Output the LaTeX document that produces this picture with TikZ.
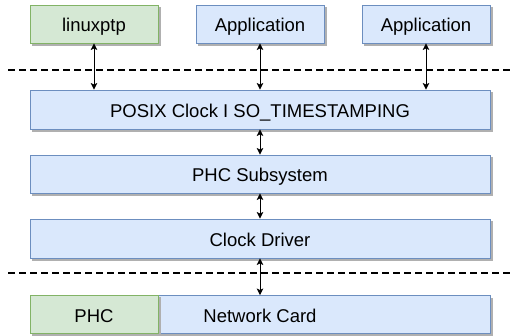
\documentclass[tikz,border=0pt]{standalone}
\usepackage{fontspec}
\setmainfont{Liberation Sans}
\usetikzlibrary{arrows.meta,backgrounds}
\definecolor{bfill}{HTML}{DAE8FC}
\definecolor{bline}{HTML}{6C8EBF}
\definecolor{gfill}{HTML}{D5E8D4}
\definecolor{gline}{HTML}{82B366}
\definecolor{shade}{HTML}{B0B0B0}
\begin{document}
\begin{tikzpicture}[x=1pt,y=-1pt,
  box/.style={draw=bline, fill=bfill, line width=0.9pt, minimum height=38pt, inner sep=0pt,
    text height=17pt, text depth=1pt,
    font=\fontsize{18.5}{22}\selectfont},
  gbox/.style={box, draw=gline, fill=gfill},
  shadowfill/.style={fill=shade},
  link/.style={line width=0.9pt, {Stealth[length=6.5pt,width=6.5pt,inset=1.5pt]}-{Stealth[length=6.5pt,width=6.5pt,inset=1.5pt]}},
  sep/.style={line width=1.4pt, dash pattern=on 6.5pt off 4.5pt}]
\useasboundingbox (0,0) rectangle (512,336);
% top row
\node[gbox, minimum width=128pt] (lp) at (94,24) {linuxptp};
\node[box, minimum width=128pt] (app1) at (260,24) {Application};
\node[box, minimum width=128pt] (app2) at (426,24) {Application};
% stack
\node[box, minimum width=460pt, minimum height=39pt] (posix) at (260,109.5) {POSIX Clock I SO\_TIMESTAMPING};
\node[box, minimum width=460pt] (phcs) at (260,174) {PHC Subsystem};
\node[box, minimum width=460pt, minimum height=39pt] (drv) at (260,238.5) {Clock Driver};
\node[box, minimum width=460pt] (nic) at (260,314.5) {Network Card};
% shadow of PHC falls on the network card
\fill[shadowfill] (33,297) rectangle (161,336);
\node[gbox, minimum width=128pt] (phc) at (94,314.5) {PHC};
% shadows of the other boxes
\begin{scope}[on background layer]
  \foreach \n in {lp,app1,app2,posix,phcs,drv,nic}
    \fill[shadowfill] ([shift={(2.5,2.5)}]\n.north west) rectangle ([shift={(2.5,2.5)}]\n.south east);
\end{scope}
% separators
\coordinate (s1a) at (8,70);
\coordinate (s1b) at (510,70);
\coordinate (s2a) at (8,273);
\coordinate (s2b) at (510,273);
\draw[sep] (s1a) -- (s1b);
\draw[sep] (s2a) -- (s2b);
% links
\draw[link] (lp.south) -- (lp.south |- posix.north);
\draw[link] (app1.south) -- (app1.south |- posix.north);
\draw[link] (app2.south) -- (app2.south |- posix.north);
\draw[link] (posix.south) -- (phcs.north);
\draw[link] (phcs.south) -- (drv.north);
\draw[link] (drv.south) -- (nic.north);
\end{tikzpicture}
\end{document}
